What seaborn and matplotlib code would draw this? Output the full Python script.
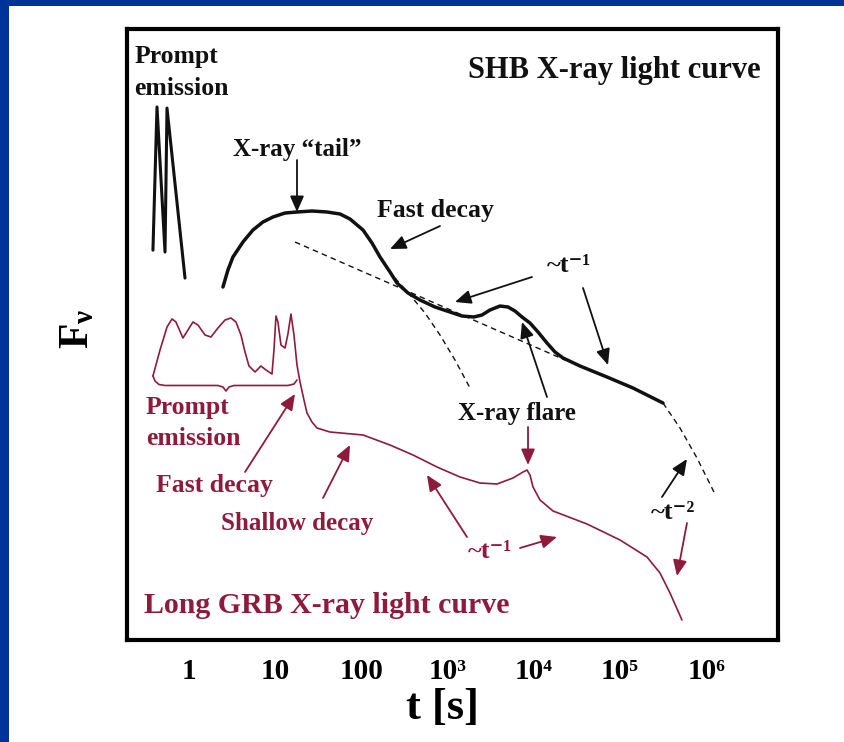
import numpy as np
import matplotlib
matplotlib.use("Agg")
import matplotlib.pyplot as plt
from matplotlib.patches import Rectangle
from matplotlib.ticker import NullLocator, FixedLocator
import seaborn as sns

# ---------------- data (log10 t [s], log10 F_nu in arbitrary units) ----------------
# SHB: prompt spikes
shb_prompt_logt = [-0.418, -0.371, -0.278, -0.255, -0.046]
shb_prompt_logf = [10.34, 14.14, 10.29, 14.11, 9.60]

# SHB: X-ray tail + afterglow
shb_tail_logt = [0.394, 0.452, 0.510, 0.626, 0.742, 0.858, 0.974, 1.114, 1.253, 1.427,
                 1.601, 1.752, 1.868, 2.019, 2.123, 2.216, 2.332, 2.413, 2.541, 2.680,
                 2.854, 3.028, 3.167, 3.306, 3.399, 3.492, 3.608, 3.701, 3.782, 3.863,
                 3.956, 4.049, 4.153, 4.246, 4.339, 4.536, 4.849, 5.151, 5.499]
shb_tail_logf = [9.363, 9.814, 10.159, 10.557, 10.875, 11.088, 11.220, 11.326, 11.353, 11.379,
                 11.353, 11.300, 11.167, 10.875, 10.531, 10.159, 9.761, 9.469, 9.204, 9.019,
                 8.833, 8.700, 8.594, 8.568, 8.621, 8.753, 8.859, 8.833, 8.727, 8.568,
                 8.408, 8.170, 7.878, 7.639, 7.480, 7.268, 6.976, 6.684, 6.286]

# SHB: dashed extrapolations
shb_t1_logt = [1.230, 4.362]
shb_t1_logf = [10.557, 7.427]
shb_fastext_logt = [2.390, 2.564, 2.738, 2.912, 3.086, 3.260]
shb_fastext_logf = [9.602, 9.151, 8.674, 8.090, 7.427, 6.684]
shb_t2_logt = [5.499, 5.696, 5.893, 6.090]
shb_t2_logf = [6.286, 5.623, 4.828, 3.926]

# Long GRB: prompt + afterglow
lgrb_logt = [-0.418, -0.336, -0.255, -0.197, -0.151, -0.070, -0.012, 0.046, 0.104, 0.186,
             0.255, 0.336, 0.418, 0.487, 0.545, 0.603, 0.650, 0.696, 0.766, 0.835,
             0.893, 0.963, 0.986, 1.009, 1.032, 1.067, 1.114, 1.148, 1.183, 1.218,
             1.253, 1.288, 1.334, 1.369, 1.427, 1.485, 1.636, 2.019, 2.332, 2.599,
             2.877, 3.144, 3.376, 3.573, 3.759, 3.875, 3.921, 3.956, 3.991, 4.072,
             4.223, 4.617, 5.000, 5.313, 5.464, 5.580, 5.719]
lgrb_logf = [7.003, 7.692, 8.302, 8.515, 8.435, 8.011, 8.223, 8.435, 8.355, 8.090,
             8.037, 8.276, 8.488, 8.541, 8.435, 8.090, 7.639, 7.268, 7.109, 7.268,
             7.162, 7.056, 7.692, 8.594, 8.435, 7.825, 7.745, 8.117, 8.647, 8.090,
             7.294, 6.844, 6.366, 6.021, 5.782, 5.623, 5.517, 5.438, 5.172, 4.907,
             4.589, 4.324, 4.164, 4.138, 4.297, 4.456, 4.509, 4.377, 4.058, 3.714,
             3.422, 3.077, 2.653, 2.202, 1.777, 1.247, 0.531]

# brace under the long-GRB prompt emission
brace_logt = [-0.418, -0.394, -0.348, -0.278, 0.336, 0.394, 0.429, 0.464, 0.522, 1.148, 1.218, 1.253]
brace_logf = [7.003, 6.870, 6.777, 6.751, 6.751, 6.711, 6.605, 6.711, 6.751, 6.751, 6.790, 6.897]

tick_values = [1, 10, 100, 1e3, 1e4, 1e5, 1e6]
tick_labels = ["1", "10", "100", "10\u00b3", "10\u2074", "10\u2075", "10\u2076"]

# ---------------- style ----------------
sns.set_style("white")
plt.rcParams["font.family"] = ["Liberation Serif", "DejaVu Serif"]
plt.rcParams["font.weight"] = "bold"
plt.rcParams["mathtext.fontset"] = "custom"
plt.rcParams["mathtext.rm"] = "Liberation Serif:bold"
plt.rcParams["mathtext.it"] = "Liberation Serif:bold"
plt.rcParams["mathtext.bf"] = "Liberation Serif:bold"

BLACK = "#111111"
RED = "#8E1B3C"
BLUE = "#003399"

fig = plt.figure(figsize=(8.45, 7.42), dpi=100)
fig.patch.set_facecolor("white")
ax = fig.add_axes([127 / 845, 102 / 742, 651 / 845, 611 / 742])


def pw(a):
    return 10 ** np.asarray(a, dtype=float)


def P(lt, lf):
    return (10 ** lt, 10 ** lf)


# curves
sns.lineplot(x=pw(shb_prompt_logt), y=pw(shb_prompt_logf), ax=ax, sort=False, estimator=None,
             color=BLACK, linewidth=2.2)
sns.lineplot(x=pw(shb_tail_logt), y=pw(shb_tail_logf), ax=ax, sort=False, estimator=None,
             color=BLACK, linewidth=2.5)
for lt, lf in [(shb_t1_logt, shb_t1_logf), (shb_fastext_logt, shb_fastext_logf),
               (shb_t2_logt, shb_t2_logf)]:
    sns.lineplot(x=pw(lt), y=pw(lf), ax=ax, sort=False, estimator=None,
                 color=BLACK, linewidth=1.0, linestyle=(0, (4, 3)))
sns.lineplot(x=pw(lgrb_logt), y=pw(lgrb_logf), ax=ax, sort=False, estimator=None,
             color=RED, linewidth=1.2)
sns.lineplot(x=pw(brace_logt), y=pw(brace_logf), ax=ax, sort=False, estimator=None,
             color=RED, linewidth=1.2)

ax.set_xscale("log")
ax.set_yscale("log")
ax.set_xlim(10 ** -0.719, 10 ** 6.833)
ax.set_ylim(1, 10 ** 16.207)

# axes frame
for s in ax.spines.values():
    s.set_visible(True)
    s.set_color("black")
    s.set_linewidth(3.0)

ax.yaxis.set_major_locator(NullLocator())
ax.yaxis.set_minor_locator(NullLocator())
ax.xaxis.set_minor_locator(NullLocator())
ax.xaxis.set_major_locator(FixedLocator(tick_values))
ax.set_xticklabels(tick_labels)
ax.tick_params(axis="x", length=0, pad=28, labelsize=21, colors="black")
ax.tick_params(axis="y", left=False, labelleft=False)
for lab in ax.get_xticklabels():
    lab.set_verticalalignment("baseline")

ax.set_xlabel("t [s]", fontsize=32, fontweight="bold", color="black")
ax.xaxis.set_label_coords(0.484, -0.078)
ax.set_ylabel(r"F$_{\nu}$", fontsize=30, fontweight="bold", color="black")
ax.yaxis.set_label_coords(-0.045, 0.51)

# ---------------- annotations ----------------
texts = [
    ("Prompt", -0.637, 15.305, 18.5, BLACK),
    ("emission", -0.637, 14.456, 18.5, BLACK),
    ("SHB X-ray light curve", 3.237, 14.907, 22, BLACK),
    ("X-ray \u201ctail\u201d", 0.510, 12.838, 18, BLACK),
    ("Fast decay", 2.181, 11.220, 18.5, BLACK),
    ("~t\u207b\u00b9", 4.153, 9.761, 19, BLACK),
    ("X-ray flare", 3.121, 5.836, 18, BLACK),
    ("~t\u207b\u00b2", 5.360, 3.210, 19, BLACK),
    ("Prompt", -0.499, 5.995, 18.5, RED),
    ("emission", -0.499, 5.172, 18.5, RED),
    ("Fast decay", -0.383, 3.926, 18.5, RED),
    ("Shallow decay", 0.371, 2.918, 18, RED),
    ("~t\u207b\u00b9", 3.237, 2.175, 19, RED),
    ("Long GRB X-ray light curve", -0.522, 0.716, 21.5, RED),
]
for s, lt, lf, fs, c in texts:
    ax.text(*P(lt, lf), s, fontsize=fs, fontweight="bold", color=c,
            ha="left", va="baseline", zorder=5)

arrows = [
    ((1.253, 12.732), (1.253, 11.353), BLACK),
    ((2.912, 10.981), (2.332, 10.371), BLACK),
    ((3.979, 9.629), (3.086, 8.966), BLACK),
    ((4.571, 9.337), (4.861, 7.294), BLACK),
    ((4.153, 6.446), (3.863, 8.435), BLACK),
    ((5.487, 3.793), (5.777, 4.801), BLACK),
    ((0.650, 4.456), (1.230, 6.525), RED),
    ((1.555, 3.767), (1.868, 5.172), RED),
    ((3.225, 2.732), (2.761, 4.377), RED),
    ((3.840, 2.440), (4.269, 2.732), RED),
    ((3.933, 5.650), (3.933, 4.642), RED),
    ((5.777, 3.103), (5.661, 1.698), RED),
]
for (t0, f0), (t1, f1), c in arrows:
    ax.annotate("", xy=P(t1, f1), xytext=P(t0, f0),
                arrowprops=dict(arrowstyle="-|>,head_length=0.8,head_width=0.35",
                                color=c, lw=1.3, shrinkA=0, shrinkB=0,
                                mutation_scale=12), zorder=4)

# blue slide border
fig.add_artist(Rectangle((0, 0), 9 / 845, 1, transform=fig.transFigure,
                         facecolor=BLUE, edgecolor="none", zorder=10))
fig.add_artist(Rectangle((0, 1 - 6 / 742), 1, 6 / 742, transform=fig.transFigure,
                         facecolor=BLUE, edgecolor="none", zorder=10))

fig.savefig("out.png", dpi=100)
